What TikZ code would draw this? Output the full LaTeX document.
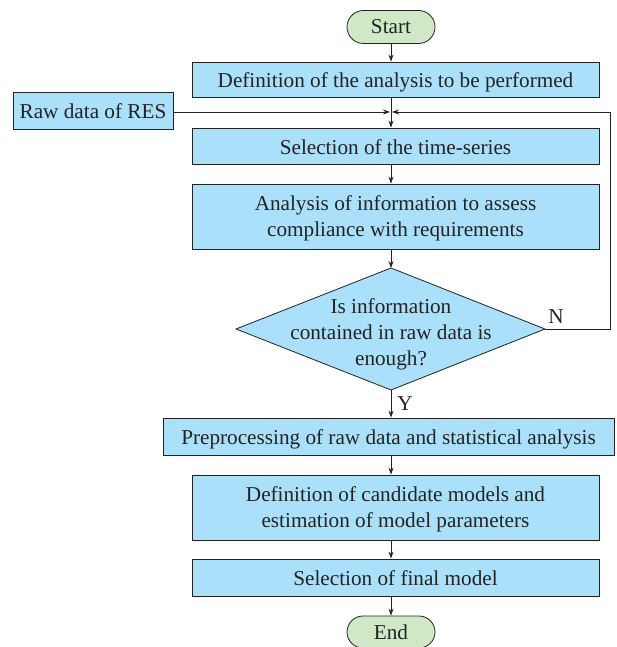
\documentclass[tikz,border=0pt]{standalone}
\usepackage{fontspec}
\setmainfont{Liberation Serif}
\usetikzlibrary{arrows.meta,shapes.misc}
\definecolor{boxblue}{RGB}{170,224,250}
\definecolor{termgreen}{RGB}{208,232,198}
\definecolor{linegray}{RGB}{35,35,35}
\begin{document}
\begin{tikzpicture}[x=1pt,y=-1pt,
  every node/.style={font=\fontsize{21.2}{26}\selectfont, text=linegray},
  proc/.style={draw=linegray, line width=0.8pt, fill=boxblue, minimum width=407pt, inner sep=0pt, align=center},
  oneline/.style={text height=20pt, text depth=3.6pt},
  twoline/.style={text height=44pt, text depth=4pt},
  term/.style={draw=linegray, line width=0.8pt, fill=termgreen, rounded rectangle, minimum width=88pt, minimum height=33pt, inner sep=0pt},
  conn/.style={draw=linegray, line width=0.8pt, -{Stealth[length=7pt,width=5pt]}},
  plain/.style={draw=linegray, line width=0.8pt}]
\useasboundingbox (0,0) rectangle (616,647);
\node[term] (start) at (391,27) {Start};
\node[proc, oneline, minimum height=35pt] (def) at (395.5,79.5) {Definition of the analysis to be performed};
\node[proc, oneline, minimum width=160pt, minimum height=37pt] (raw) at (93,110.5) {Raw data of RES};
\node[proc, oneline, minimum height=36pt] (sel) at (395.5,146) {Selection of the time-series};
\node[proc, twoline, minimum height=65pt] (ana) at (395.5,216.5) {Analysis of information to assess\\compliance with requirements};
\coordinate (dtop) at (391,268);
\coordinate (dright) at (545,329);
\coordinate (dbot) at (391,390);
\coordinate (dleft) at (236,329);
\draw[plain, fill=boxblue] (dtop) -- (dright) -- (dbot) -- (dleft) -- cycle;
\node[align=center] (dectext) at (391,334) {Is information\\contained in raw data is\\enough?};
\node[proc, oneline, minimum width=451pt, minimum height=37pt] (pre) at (388.5,436.5) {Preprocessing of raw data and statistical analysis};
\node[proc, twoline, minimum height=65pt] (cand) at (395.5,507.5) {Definition of candidate models and\\estimation of model parameters};
\node[proc, oneline, minimum height=37pt] (fin) at (395.5,577.5) {Selection of final model};
\node[term, minimum height=32pt] (end) at (391,632) {End};
\coordinate (merge) at (391,112);
\coordinate (loopr) at (610,329);
\coordinate (loopt) at (610,112);
\node (nlab) at (556,317) {N};
\node (ylab) at (405,404) {Y};
\draw[conn] (start.south) -- (start.south |- def.north);
\draw[conn] (def.south -| merge) -- (merge |- sel.north);
\draw[conn] (raw.east |- merge) -- ([xshift=-1pt]merge);
\draw[conn] (dright) -- (loopr) -- (loopt) -- ([xshift=1pt]merge);
\draw[conn] (merge |- sel.south) -- (merge |- ana.north);
\draw[conn] (merge |- ana.south) -- (dtop);
\draw[conn] (dbot) -- (merge |- pre.north);
\draw[conn] (merge |- pre.south) -- (merge |- cand.north);
\draw[conn] (merge |- cand.south) -- (merge |- fin.north);
\draw[conn] (merge |- fin.south) -- (end.north);
\end{tikzpicture}
\end{document}
